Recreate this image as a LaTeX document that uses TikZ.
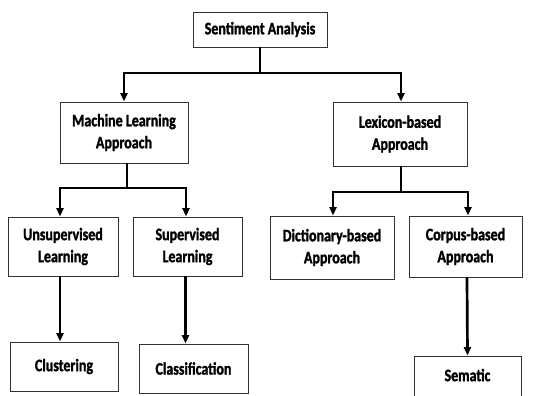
\documentclass[tikz,border=0pt]{standalone}
\usepackage{fontspec}
\setmainfont{Carlito}[FakeStretch=0.8,BoldFeatures={FakeBold=1.5}]
\usetikzlibrary{arrows.meta}
\begin{document}
\begin{tikzpicture}[x=1pt,y=-1pt,
  box/.style={draw=black!80,line width=0.9pt,rectangle,inner sep=0pt,align=center,
    font=\fontsize{17.5}{22}\selectfont\bfseries},
  link/.style={line width=2.7pt},
  arr/.style={line width=2.7pt,-{Triangle[width=7pt,length=8.5pt]}}]
\clip (0,0) rectangle (533,396);
\fill[white] (0,0) rectangle (533,396);
\node[box,minimum width=134pt,minimum height=35pt] (SA) at (260,29.5) {Sentiment Analysis};
\node[box,minimum width=128pt,minimum height=61pt] (ML) at (124,132.5) {Machine Learning\\Approach};
\node[box,minimum width=134pt,minimum height=64pt] (LX) at (400,134) {Lexicon-based\\Approach};
\node[box,minimum width=110pt,minimum height=59pt] (UL) at (63,246.5) {Unsupervised\\Learning};
\node[box,minimum width=109pt,minimum height=59pt] (SL) at (187.5,246.5) {Supervised\\Learning};
\node[box,minimum width=124pt,minimum height=63pt] (DA) at (332,247.5) {Dictionary-based\\Approach};
\node[box,minimum width=113pt,minimum height=61pt] (CA) at (465.5,246.5) {Corpus-based\\Approach};
\node[box,minimum width=108pt,minimum height=49pt] (CL) at (64,366.5) {Clustering};
\node[box,minimum width=109pt,minimum height=49pt] (CF) at (193.5,368.5) {Classification};
\node[box,minimum width=107pt,minimum height=54pt,text depth=16pt] (SE) at (467.5,383) {Sematic};
\coordinate (sj) at (260,73);
\coordinate (mj) at (127,188);
\coordinate (lj) at (401,192);
\draw[link] (SA.south) -- (sj);
\draw[arr] (sj) -| (ML.north);
\draw[arr] (sj) -| ([xshift=1pt]LX.north);
\draw[link] ([xshift=3pt]ML.south) -- (mj);
\draw[arr] (mj) -| ([xshift=-3pt]UL.north);
\draw[arr] (mj) -| ([xshift=-1.5pt]SL.north);
\draw[link] ([xshift=1pt]LX.south) -- (lj);
\draw[arr] (lj) -| ([xshift=1pt]DA.north);
\draw[arr] (lj) -| ([xshift=2.5pt]CA.north);
\draw[arr] ([xshift=-3pt]UL.south) -- ([xshift=-4pt]CL.north);
\draw[arr] ([xshift=-2pt]SL.south) -- ([xshift=-8pt]CF.north);
\draw[arr] ([xshift=1.5pt]CA.south) -- (SE.north);
\end{tikzpicture}
\end{document}
